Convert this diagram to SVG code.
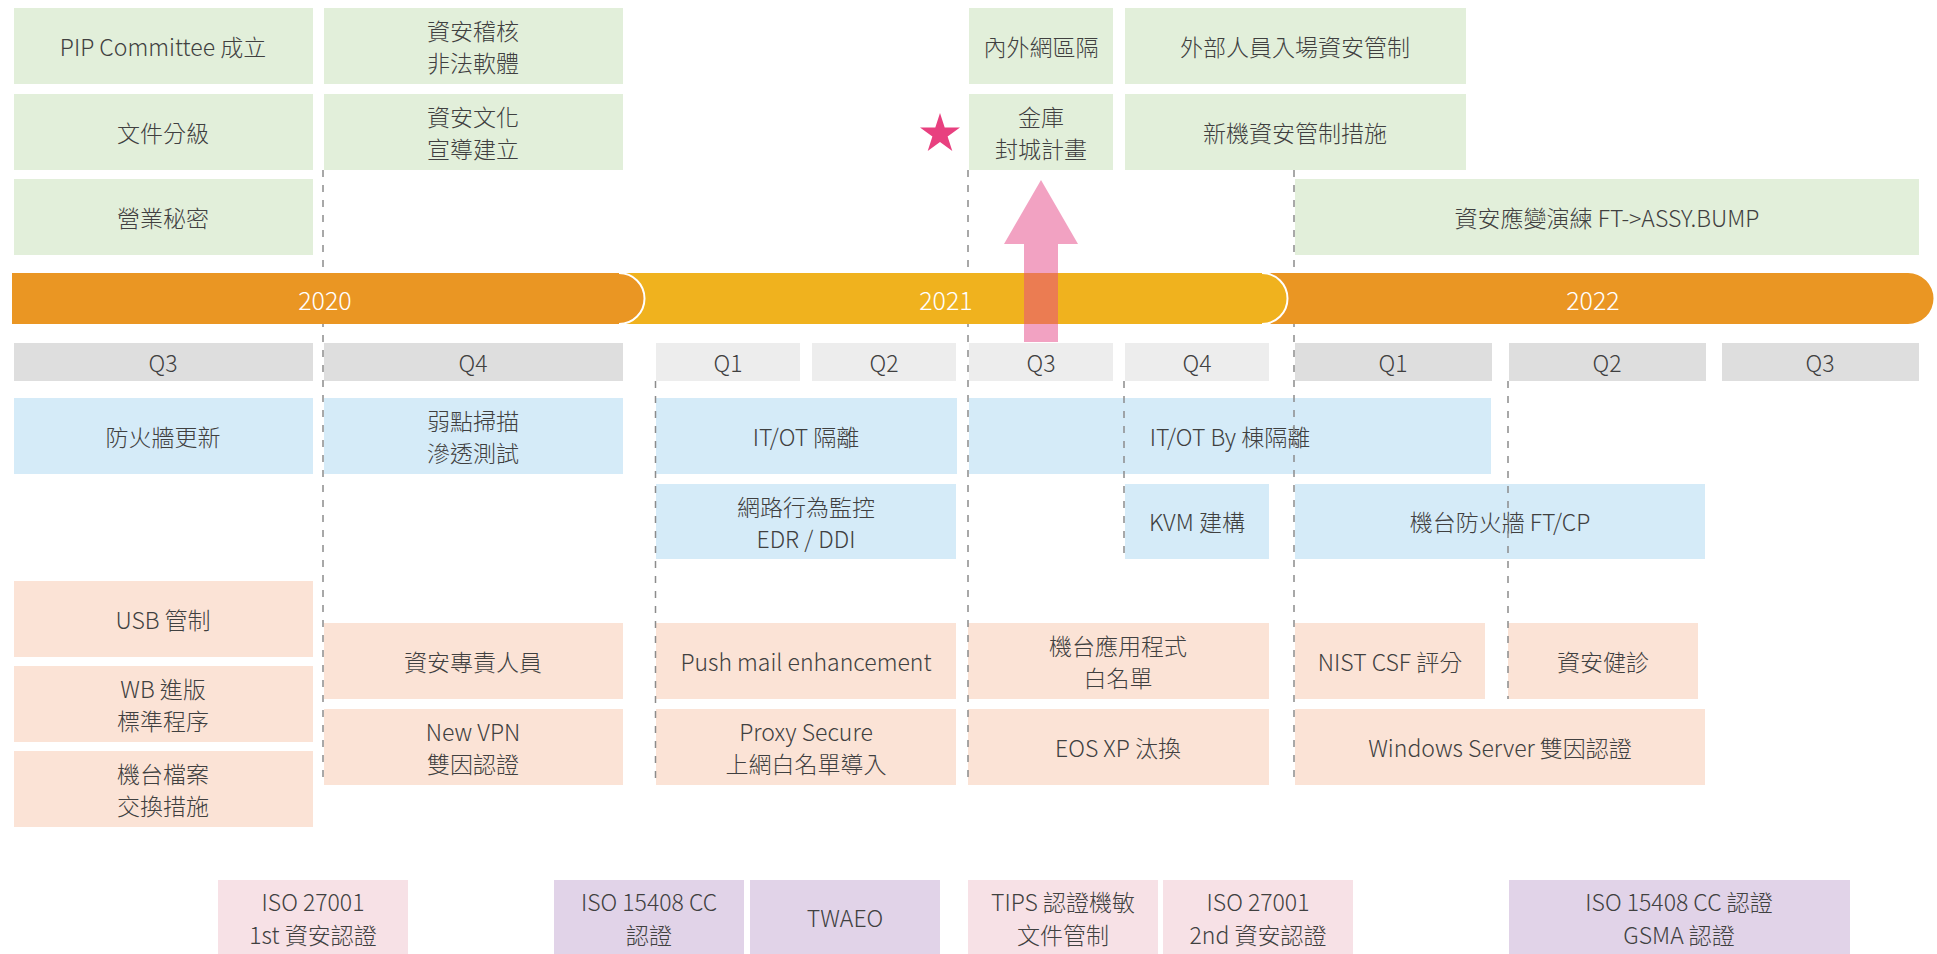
<svg xmlns="http://www.w3.org/2000/svg" width="1937" height="954" viewBox="0 0 1937 954">
<style>
text{font-family:"Noto Sans CJK TC","Noto Sans",sans-serif;font-size:23px;font-weight:300;fill:#404040;text-anchor:middle;dominant-baseline:central}
.yr{fill:#ffffff;font-size:25px}
.g{fill:#E2EFDA}
.q{fill:#DEDEDE}
.ql{fill:#EDEDED}
.b{fill:#D5EBF8}
.p{fill:#FBE3D6}
.ck{fill:#F7E1E6}
.cv{fill:#E1D3E8}
.dash{stroke:#8C8C8C;stroke-width:1.5;stroke-dasharray:7 8;fill:none}
</style>
<rect width="1937" height="954" fill="#ffffff"/>

<!-- green items -->
<g id="pip"><rect class="g" x="14" y="8" width="299" height="76"/><text x="163" y="46">PIP Committee 成立</text></g>
<g id="doc-class"><rect class="g" x="14" y="94" width="299" height="76"/><text x="163" y="132">文件分級</text></g>
<g id="trade-secret"><rect class="g" x="14" y="179" width="299" height="76"/><text x="163" y="217">營業秘密</text></g>
<g id="audit"><rect class="g" x="324" y="8" width="299" height="76"/><text x="473" y="30">資安稽核</text><text x="473" y="62">非法軟體</text></g>
<g id="culture"><rect class="g" x="324" y="94" width="299" height="76"/><text x="473" y="116">資安文化</text><text x="473" y="148">宣導建立</text></g>
<g id="net-sep"><rect class="g" x="969" y="8" width="144" height="76"/><text x="1041" y="46">內外網區隔</text></g>
<g id="vault"><rect class="g" x="969" y="94" width="144" height="76"/><text x="1041" y="116">金庫</text><text x="1041" y="148">封城計畫</text></g>
<g id="visitor"><rect class="g" x="1125" y="8" width="341" height="76"/><text x="1295" y="46">外部人員入場資安管制</text></g>
<g id="new-tool"><rect class="g" x="1125" y="94" width="341" height="76"/><text x="1295" y="132">新機資安管制措施</text></g>
<g id="drill"><rect class="g" x="1295" y="179" width="624" height="76"/><text x="1607" y="217">資安應變演練 FT-&gt;ASSY.BUMP</text></g>

<!-- quarters -->
<g id="q3-2020"><rect class="q" x="14" y="343" width="299" height="38"/><text x="163" y="362">Q3</text></g>
<g id="q4-2020"><rect class="q" x="324" y="343" width="299" height="38"/><text x="473" y="362">Q4</text></g>
<g id="q1-2021"><rect class="ql" x="656" y="343" width="144" height="38"/><text x="728" y="362">Q1</text></g>
<g id="q2-2021"><rect class="ql" x="812" y="343" width="144" height="38"/><text x="884" y="362">Q2</text></g>
<g id="q3-2021"><rect class="ql" x="969" y="343" width="144" height="38"/><text x="1041" y="362">Q3</text></g>
<g id="q4-2021"><rect class="ql" x="1125" y="343" width="144" height="38"/><text x="1197" y="362">Q4</text></g>
<g id="q1-2022"><rect class="q" x="1295" y="343" width="197" height="38"/><text x="1393" y="362">Q1</text></g>
<g id="q2-2022"><rect class="q" x="1509" y="343" width="197" height="38"/><text x="1607" y="362">Q2</text></g>
<g id="q3-2022"><rect class="q" x="1722" y="343" width="197" height="38"/><text x="1820" y="362">Q3</text></g>

<!-- blue items -->
<g id="fw-update"><rect class="b" x="14" y="398" width="299" height="76"/><text x="163" y="436">防火牆更新</text></g>
<g id="vuln"><rect class="b" x="324" y="398" width="299" height="76"/><text x="473" y="420">弱點掃描</text><text x="473" y="452">滲透測試</text></g>
<g id="itot"><rect class="b" x="656" y="398" width="301" height="76"/><text x="806" y="436">IT/OT 隔離</text></g>
<g id="itot-bldg"><rect class="b" x="969" y="398" width="522" height="76"/><text x="1230" y="436">IT/OT By 棟隔離</text></g>
<g id="edr"><rect class="b" x="656" y="484" width="300" height="75"/><text x="806" y="506">網路行為監控</text><text x="806" y="538">EDR / DDI</text></g>
<g id="kvm"><rect class="b" x="1125" y="484" width="144" height="75"/><text x="1197" y="521">KVM 建構</text></g>
<g id="tool-fw"><rect class="b" x="1295" y="484" width="410" height="75"/><text x="1500" y="521">機台防火牆 FT/CP</text></g>

<!-- peach items -->
<g id="usb"><rect class="p" x="14" y="581" width="299" height="76"/><text x="163" y="619">USB 管制</text></g>
<g id="wb"><rect class="p" x="14" y="666" width="299" height="76"/><text x="163" y="688">WB 進版</text><text x="163" y="720">標準程序</text></g>
<g id="file-ex"><rect class="p" x="14" y="751" width="299" height="76"/><text x="163" y="773">機台檔案</text><text x="163" y="805">交換措施</text></g>
<g id="staff"><rect class="p" x="324" y="623" width="299" height="76"/><text x="473" y="661">資安專責人員</text></g>
<g id="vpn"><rect class="p" x="324" y="709" width="299" height="76"/><text x="473" y="731">New VPN</text><text x="473" y="763">雙因認證</text></g>
<g id="pushmail"><rect class="p" x="656" y="623" width="300" height="76"/><text x="806" y="661">Push mail enhancement</text></g>
<g id="proxy"><rect class="p" x="656" y="709" width="300" height="76"/><text x="806" y="731">Proxy Secure</text><text x="806" y="763">上網白名單導入</text></g>
<g id="app-wl"><rect class="p" x="968" y="623" width="301" height="76"/><text x="1118" y="645">機台應用程式</text><text x="1118" y="677">白名單</text></g>
<g id="eos"><rect class="p" x="968" y="709" width="301" height="76"/><text x="1118" y="747">EOS XP 汰換</text></g>
<g id="nist"><rect class="p" x="1295" y="623" width="190" height="76"/><text x="1390" y="661">NIST CSF 評分</text></g>
<g id="health"><rect class="p" x="1508" y="623" width="190" height="76"/><text x="1603" y="661">資安健診</text></g>
<g id="winsrv"><rect class="p" x="1295" y="709" width="410" height="76"/><text x="1500" y="747">Windows Server 雙因認證</text></g>

<!-- certifications -->
<g id="iso27001-1"><rect class="ck" x="218" y="880" width="190" height="74"/><text x="313" y="901">ISO 27001</text><text x="313" y="934">1st 資安認證</text></g>
<g id="iso15408"><rect class="cv" x="554" y="880" width="190" height="74"/><text x="649" y="901">ISO 15408 CC</text><text x="649" y="934">認證</text></g>
<g id="twaeo"><rect class="cv" x="750" y="880" width="190" height="74"/><text x="845" y="917">TWAEO</text></g>
<g id="tips"><rect class="ck" x="968" y="880" width="190" height="74"/><text x="1063" y="901">TIPS 認證機敏</text><text x="1063" y="934">文件管制</text></g>
<g id="iso27001-2"><rect class="ck" x="1163" y="880" width="190" height="74"/><text x="1258" y="901">ISO 27001</text><text x="1258" y="934">2nd 資安認證</text></g>
<g id="iso15408-gsma"><rect class="cv" x="1509" y="880" width="341" height="74"/><text x="1679" y="901">ISO 15408 CC 認證</text><text x="1679" y="934">GSMA 認證</text></g>

<!-- quarter divider lines -->
<g id="connectors">
<line class="dash" x1="323" y1="170" x2="323" y2="785"/>
<line class="dash" x1="655.5" y1="381" x2="655.5" y2="785"/>
<line class="dash" x1="968" y1="170" x2="968" y2="785"/>
<line class="dash" x1="1124" y1="381" x2="1124" y2="559"/>
<line class="dash" x1="1294" y1="170" x2="1294" y2="785"/>
<line class="dash" x1="1508" y1="381" x2="1508" y2="699"/>
</g>

<!-- timeline bar -->
<g id="year-2022"><path d="M1260,273 H1908 A25.5,25.5 0 0 1 1908,324 H1260 Z" fill="#EA9623"/><text class="yr" x="1593" y="299">2022</text></g>
<g id="year-2021"><path d="M620,273 H1262 A25.5,25.5 0 0 1 1262,324 H620 Z" fill="#F0B21E"/><path d="M1262,273 A25.5,25.5 0 0 1 1262,324" fill="none" stroke="#ffffff" stroke-width="2"/><text class="yr" x="946" y="299">2021</text></g>
<g id="year-2020"><path d="M12,273 H619 A25.5,25.5 0 0 1 619,324 H12 Z" fill="#EA9623"/><path d="M619,273 A25.5,25.5 0 0 1 619,324" fill="none" stroke="#ffffff" stroke-width="2"/><text class="yr" x="325" y="299">2020</text></g>

<!-- highlight -->
<g id="highlight-arrow"><polygon points="1041,180 1078,244 1058,244 1058,342 1024,342 1024,244 1004,244" fill="#E54585" fill-opacity="0.5"/></g>
<g id="star"><polygon points="940,113 944.7,127.5 960,127.5 947.6,136.5 952.3,151 940,142 927.7,151 932.4,136.5 920,127.5 935.3,127.5" fill="#E8407F"/></g>
</svg>
